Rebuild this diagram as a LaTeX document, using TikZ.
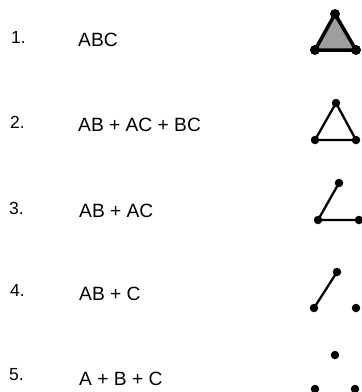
\documentclass[tikz,border=0pt]{standalone}
\usepackage{fontspec}
\setmainfont{Liberation Sans}
\usetikzlibrary{positioning}

\begin{document}
\begin{tikzpicture}[
  x=1pt, y=-1pt,
  num/.style={anchor=base west, inner sep=0pt, font=\fontsize{17.5}{20}\selectfont},
  term/.style={anchor=base west, inner sep=0pt, font=\fontsize{19.2}{22}\selectfont},
  dot/.style={circle, fill=black, inner sep=0pt, minimum size=#1},
  dot/.default=8.5pt,
  bond/.style={line width=#1, line cap=round, line join=round},
  bond/.default=2.3pt
]
  \useasboundingbox (0,0) rectangle (362,392);

  % numbers and terms
  \node[num]  (n1) at (11,43)  {1.};
  \node[term] (t1) at (78,46)  {ABC};
  \node[num]  (n2) at (10,128) {2.};
  \node[term] (t2) at (78,131) {AB + AC + BC};
  \node[num]  (n3) at (9,214)  {3.};
  \node[term] (t3) at (79,217) {AB + AC};
  \node[num]  (n4) at (10,296) {4.};
  \node[term] (t4) at (79,300) {AB + C};
  \node[num]  (n5) at (9,380)  {5.};
  \node[term] (t5) at (79,385) {A + B + C};

  % 1. ABC
  \coordinate (a1) at (335,14);
  \coordinate (b1) at (315,50);
  \coordinate (c1) at (356,50);
  \filldraw[bond=3.5pt, fill=black!38] (a1) -- (b1) -- (c1) -- cycle;
  \foreach \p in {a1,b1,c1} \node[dot=10pt] (d\p) at (\p) {};

  % 2. AB + AC + BC
  \coordinate (a2) at (336,103);
  \coordinate (b2) at (315,140);
  \coordinate (c2) at (356,140);
  \draw[bond] (a2) -- (b2) -- (c2) -- cycle;
  \foreach \p in {a2,b2,c2} \node[dot] (d\p) at (\p) {};

  % 3. AB + AC
  \coordinate (a3) at (339,183);
  \coordinate (b3) at (318,220);
  \coordinate (c3) at (359,220);
  \draw[bond] (a3) -- (b3) -- (c3);
  \foreach \p in {a3,b3,c3} \node[dot] (d\p) at (\p) {};

  % 4. AB + C
  \coordinate (a4) at (337,272);
  \coordinate (b4) at (314,308);
  \coordinate (c4) at (356,308);
  \draw[bond] (a4) -- (b4);
  \foreach \p in {a4,b4,c4} \node[dot] (d\p) at (\p) {};

  % 5. A + B + C
  \coordinate (a5) at (335,355);
  \coordinate (b5) at (315,389);
  \coordinate (c5) at (355,389);
  \foreach \p in {a5,b5,c5} \node[dot] (d\p) at (\p) {};
\end{tikzpicture}
\end{document}
